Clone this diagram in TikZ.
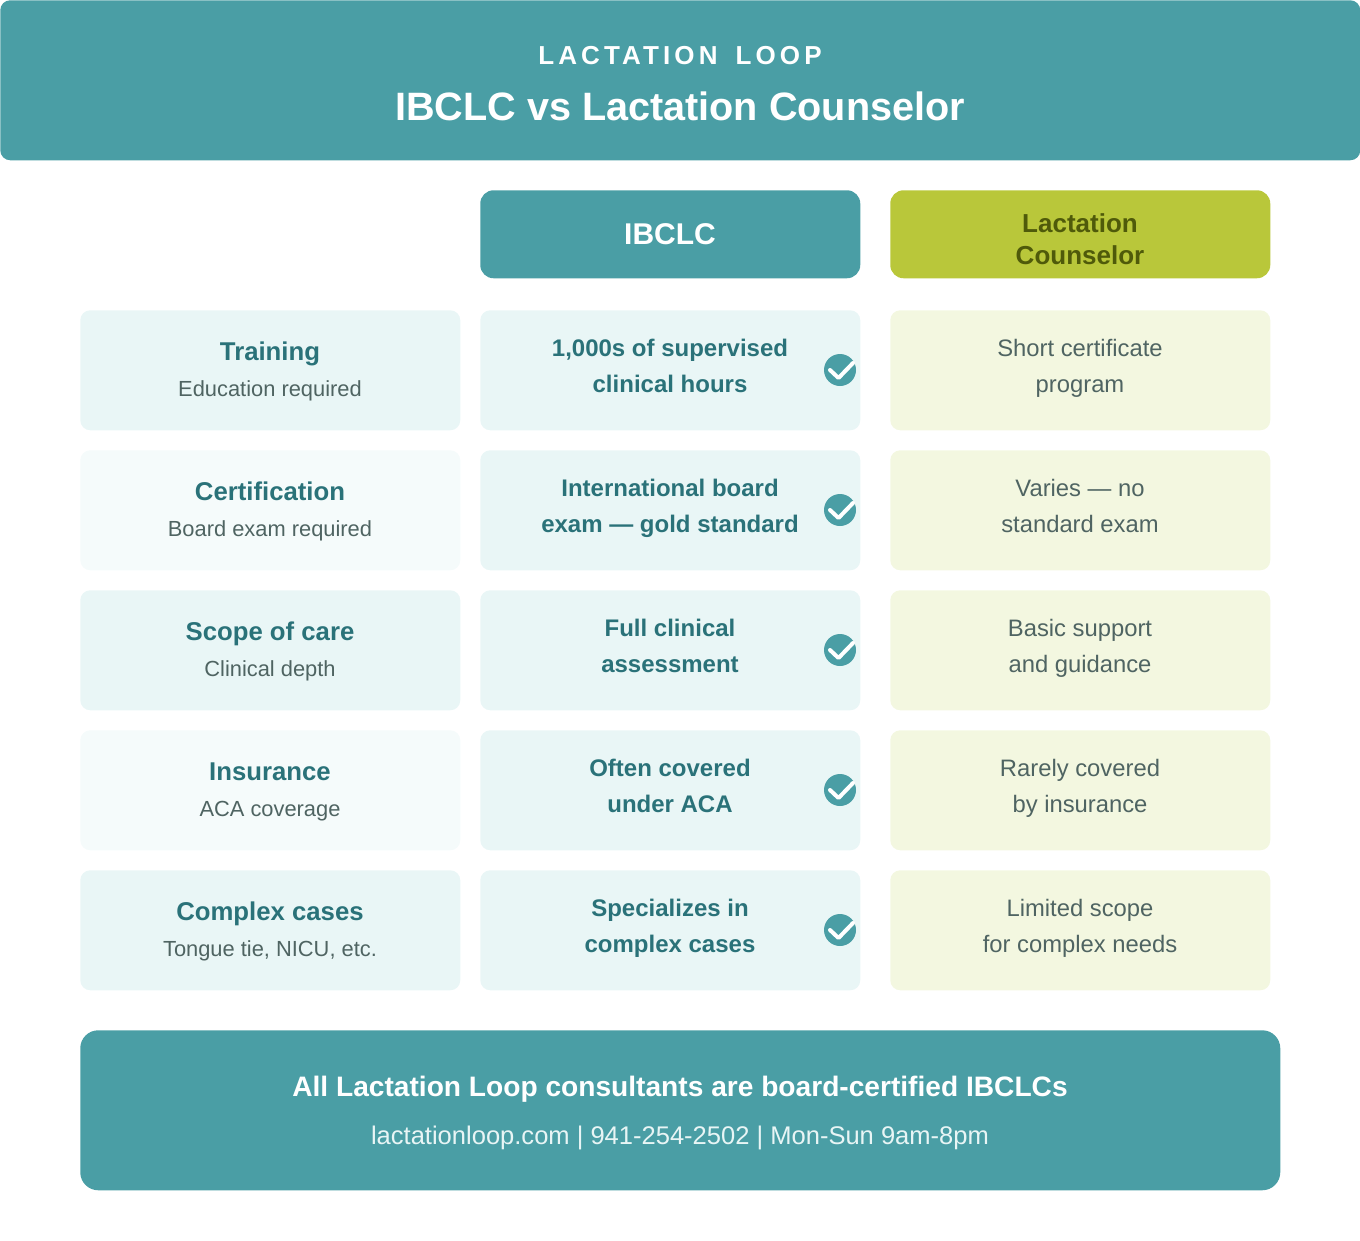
\documentclass[tikz,border=0pt]{standalone}
\usepackage{fontspec}
\setmainfont{Liberation Sans}
\newfontfamily\kickerfont[LetterSpace=15.8,WordSpace=1.6]{Liberation Sans}
\usetikzlibrary{positioning}
\definecolor{teal}{HTML}{4A9EA5}
\definecolor{darkteal}{HTML}{2A7279}
\definecolor{lime}{HTML}{B9C73A}
\definecolor{darkolive}{HTML}{4F5A0A}
\definecolor{paleteal}{HTML}{E9F6F6}
\definecolor{paleterteal}{HTML}{F5FBFB}
\definecolor{palelime}{HTML}{F3F7E0}
\definecolor{greytext}{HTML}{4F6462}
\definecolor{footertext}{HTML}{E8F5F5}
\tikzstyle{cell}=[draw=none,rounded corners=7.5pt,inner sep=0pt,minimum width=285pt,minimum height=90pt,anchor=north west]
\tikzstyle{headcell}=[cell,minimum height=66pt,rounded corners=10pt]
\tikzstyle{rowlabel}=[anchor=base,inner sep=0pt,font=\fontsize{19.3pt}{24pt}\selectfont\bfseries,text=darkteal]
\tikzstyle{rowsub}=[anchor=base,inner sep=0pt,font=\fontsize{16.4pt}{20pt}\selectfont,text=greytext]
\tikzstyle{ibclctext}=[anchor=base,inner sep=0pt,font=\fontsize{18pt}{22pt}\selectfont\bfseries,text=darkteal]
\tikzstyle{lctext}=[anchor=base,inner sep=0pt,font=\fontsize{17.85pt}{22pt}\selectfont,text=greytext]
\tikzstyle{checkdot}=[circle,fill=teal,minimum size=24pt,inner sep=0pt]
\tikzstyle{checkline}=[draw=white,line width=3pt,line cap=round,line join=round]
\begin{document}
\begin{tikzpicture}[x=0.75pt,y=-0.75pt]
\useasboundingbox (0,0) rectangle (1360,1240);

% banner
\node[cell,fill=teal,minimum width=1020pt,minimum height=120pt] (banner) at (0,0) {};
\node[anchor=base,inner sep=0pt,text=white,font=\fontsize{19.5pt}{24pt}\selectfont\bfseries\kickerfont] (kicker) at (680,64) {LACTATION LOOP};
\node[anchor=base,inner sep=0pt,text=white,font=\fontsize{29.7pt}{36pt}\selectfont\bfseries] (title) at (680,120) {IBCLC vs Lactation Counselor};

% column heads
\node[headcell,fill=teal] (headI) at (480,190) {};
\node[headcell,fill=lime] (headL) at (890,190) {};
\node[anchor=base,inner sep=0pt,text=white,font=\fontsize{22.5pt}{26pt}\selectfont\bfseries] (headItext) at (670,244) {IBCLC};
\node[anchor=base,inner sep=0pt,text=darkolive,font=\fontsize{19.5pt}{24pt}\selectfont\bfseries] (headLa) at (1080,232) {Lactation};
\node[anchor=base,inner sep=0pt,text=darkolive,font=\fontsize{19.5pt}{24pt}\selectfont\bfseries] (headLb) at (1080,264) {Counselor};

% rows
\foreach \y/\name/\shade/\label/\sub/\ia/\ib/\la/\lb in {
  310/train/paleteal/Training/Education required/{1,000s of supervised}/clinical hours/Short certificate/program,
  450/cert/paleterteal/Certification/Board exam required/International board/exam --- gold standard/Varies --- no/standard exam,
  590/scope/paleteal/Scope of care/Clinical depth/Full clinical/assessment/Basic support/and guidance,
  730/ins/paleterteal/Insurance/ACA coverage/Often covered/under ACA/Rarely covered/by insurance,
  870/cases/paleteal/Complex cases/{Tongue tie, NICU, etc.}/Specializes in/complex cases/Limited scope/for complex needs}
{
  \node[cell,fill=\shade] (\name A) at (80,\y) {};
  \node[cell,fill=paleteal] (\name B) at (480,\y) {};
  \node[cell,fill=palelime] (\name C) at (890,\y) {};
  \node[rowlabel] (\name label) at (270,\y+50) {\label};
  \node[rowsub] (\name sub) at (270,\y+86) {\sub};
  \node[ibclctext] (\name Ia) at (670,\y+46) {\ia};
  \node[ibclctext] (\name Ib) at (670,\y+82) {\ib};
  \node[lctext] (\name La) at (1080,\y+46) {\la};
  \node[lctext] (\name Lb) at (1080,\y+82) {\lb};
  \node[checkdot] (\name dot) at (840,\y+60) {};
  \draw[checkline] (830,\y+60) -- (838.5,\y+68) -- (853,\y+53);
}

% footer
\node[cell,fill=teal,minimum width=900pt,minimum height=120pt,rounded corners=13.5pt] (footer) at (80,1030) {};
\node[anchor=base,inner sep=0pt,text=white,font=\fontsize{21.1pt}{26pt}\selectfont\bfseries] (footera) at (680,1096) {All Lactation Loop consultants are board-certified IBCLCs};
\node[anchor=base,inner sep=0pt,text=footertext,font=\fontsize{19.15pt}{24pt}\selectfont] (footerb) at (680,1144.5) {lactationloop.com | 941-254-2502 | Mon-Sun 9am-8pm};
\end{tikzpicture}
\end{document}
